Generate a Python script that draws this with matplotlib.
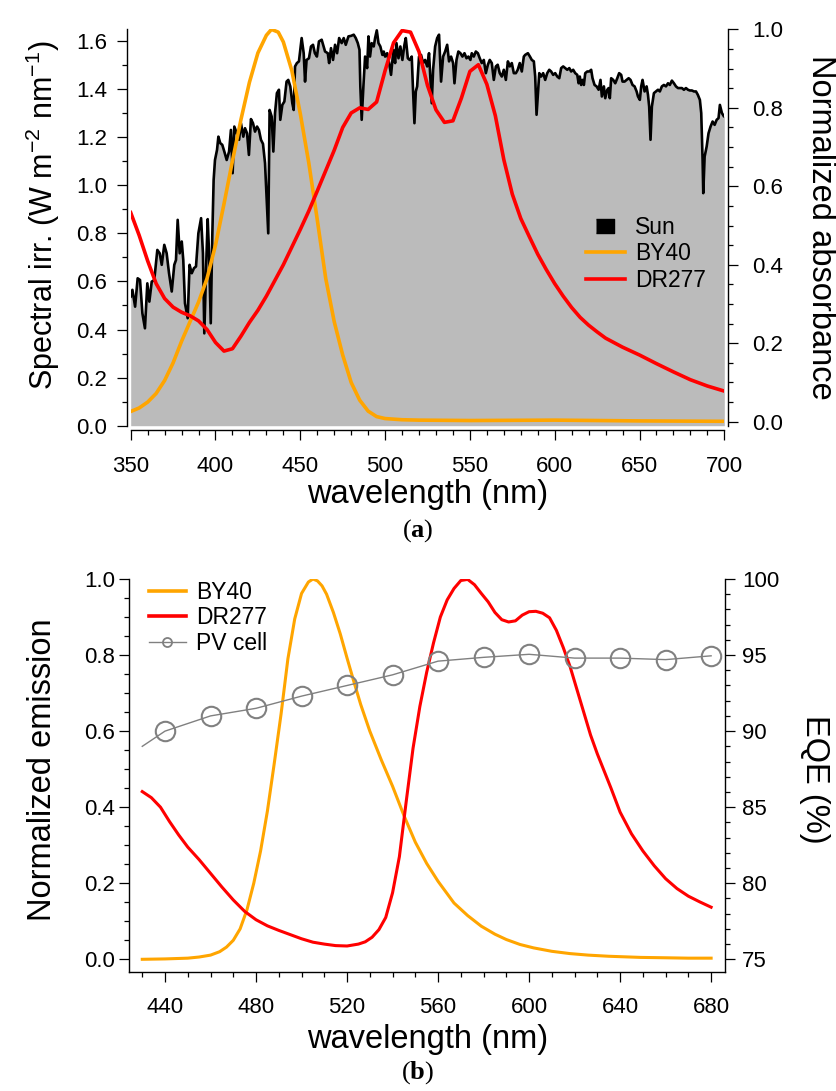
import matplotlib
matplotlib.use("Agg")
from matplotlib import pyplot
from matplotlib.lines import Line2D
from matplotlib.ticker import MultipleLocator, FixedLocator, FormatStrFormatter

# ---- panel (a): solar spectrum and absorbance ----
sun_wl = [350.0, 351.0, 352.6, 354.1, 355.5, 356.9, 358.4, 359.8, 361.0, 362.4, 363.9, 365.7, 367.1, 368.3,
          369.8, 371.2, 372.6, 374.2, 375.7, 376.7, 377.7, 378.9, 380.1, 381.0, 382.0, 383.6, 384.7, 386.0,
          387.3, 388.5, 389.9, 391.5, 392.6, 393.4, 394.6, 395.4, 396.2, 397.2, 398.1, 398.9, 399.7, 400.9,
          401.7, 402.8, 404.0, 405.2, 406.6, 408.0, 409.1, 410.1, 411.1, 412.5, 413.9, 415.0, 416.4, 417.4,
          418.6, 419.7, 420.9, 422.1, 423.3, 424.5, 425.6, 426.8, 428.0, 429.2, 430.2, 431.1, 431.9, 433.1,
          434.1, 435.1, 436.2, 437.4, 438.2, 439.4, 440.6, 441.9, 442.9, 444.1, 445.3, 446.1, 446.9, 448.0,
          449.2, 450.8, 452.0, 452.8, 453.7, 455.1, 456.3, 457.5, 458.6, 459.8, 461.0, 462.6,
          464.6, 466.2, 467.0, 468.1, 469.3, 470.5, 471.7, 472.9, 474.4, 475.6, 476.8, 478.4, 479.9, 481.5,
          482.7, 483.9, 484.9, 485.4, 486.2, 487.2, 488.2, 489.4, 490.2, 491.1, 492.1, 493.3, 494.1, 495.1,
          496.1, 497.2, 498.4, 499.2, 500.0, 501.2, 502.4, 503.5, 504.9, 505.9, 506.7, 507.9, 509.0, 510.2,
          511.4, 512.2, 513.4, 514.5, 515.7, 516.5, 517.3, 518.1, 518.9, 520.0, 521.2, 522.4, 523.6, 524.8,
          525.9, 526.7, 527.5, 528.3, 529.5, 530.7, 531.8, 533.0, 534.2, 535.4, 536.6, 537.7, 538.9, 540.1,
          540.9, 542.1, 543.2, 544.4, 545.6, 546.8, 548.0, 549.1, 550.3, 551.1, 552.3, 553.5, 554.7, 555.8,
          557.0, 558.2, 559.4, 560.6, 561.7, 562.9, 564.1, 565.3, 566.4, 567.6, 568.8, 570.0, 571.2, 572.4,
          573.5, 574.7, 575.9, 577.1, 578.2, 579.4, 580.6, 581.8,
          582.6, 584.2, 585.4, 586.5, 587.7, 588.5, 589.3, 590.1, 590.9, 592.0, 593.2, 594.4, 595.6, 596.8,
          597.9, 599.1, 600.3, 601.5, 602.7, 603.8, 605.0, 606.2, 607.4, 608.6, 609.7, 610.9, 612.1, 613.3,
          614.1, 614.8, 615.6, 616.4, 617.2, 618.0, 619.2, 620.4, 621.5, 622.3, 623.5, 624.7, 625.9, 627.0,
          627.8, 629.0, 629.8, 631.0, 631.8, 632.5, 633.3, 634.5, 635.7, 636.9, 638.0, 639.2, 640.0, 641.2,
          642.4, 643.6, 644.7, 645.9, 647.1, 648.3, 649.1, 650.2, 651.0, 651.8, 653.0, 654.2, 655.0, 655.7,
          656.5, 657.3, 658.5, 659.7, 660.9, 662.0, 663.2, 664.4, 665.6, 666.8, 667.9, 669.1, 670.3, 671.5,
          672.7, 673.8, 675.0, 676.2, 677.4, 678.6, 679.7, 680.9, 682.1, 683.3, 684.4, 685.6, 686.4, 687.2,
          687.6, 688.4, 689.6, 690.7, 691.9, 693.1, 694.3, 695.5, 696.6, 697.4, 698.6, 699.8, 700.0]
sun_irr = [0.537, 0.565, 0.495, 0.613, 0.606, 0.467, 0.405, 0.592, 0.516, 0.599, 0.606, 0.731, 0.717, 0.669,
           0.752, 0.717, 0.634, 0.558, 0.669, 0.689, 0.856, 0.717, 0.766, 0.689, 0.509, 0.447, 0.669, 0.634,
           0.655, 0.662, 0.800, 0.863, 0.717, 0.384, 0.689, 0.859, 0.717, 0.426, 0.786, 1.022, 1.105, 1.147,
           1.202, 1.175, 1.168, 1.140, 1.105, 1.140, 1.230, 1.050, 1.244, 1.216, 1.189, 1.258, 1.202, 1.237,
           1.216, 1.126, 1.275, 1.258, 1.223, 1.244, 1.230, 1.189, 1.172, 1.092, 0.939, 0.800, 1.313, 1.286,
           1.140, 1.300, 1.383, 1.397, 1.272, 1.334, 1.348, 1.431, 1.438, 1.411, 1.341, 1.313, 1.494, 1.508,
           1.515, 1.612, 1.549, 1.431, 1.521, 1.528, 1.577, 1.584, 1.549, 1.535, 1.598, 1.605,
           1.556, 1.549, 1.508, 1.570, 1.521, 1.584, 1.549, 1.612, 1.591, 1.612, 1.584, 1.619, 1.621, 1.626,
           1.612, 1.591, 1.563, 1.411, 1.272, 1.411, 1.535, 1.487, 1.619, 1.535, 1.591, 1.577, 1.612, 1.644,
           1.591, 1.577, 1.542, 1.556, 1.535, 1.549, 1.508, 1.459, 1.563, 1.508, 1.591, 1.528, 1.577, 1.521,
           1.584, 1.612, 1.528, 1.521, 1.535, 1.390, 1.258, 1.390, 1.411, 1.535, 1.542, 1.508, 1.521, 1.494,
           1.549, 1.445, 1.341, 1.480, 1.577, 1.612, 1.626, 1.431, 1.535, 1.556, 1.584, 1.515, 1.535, 1.508,
           1.424, 1.521, 1.556, 1.549, 1.535, 1.549, 1.528, 1.535, 1.521, 1.549, 1.535, 1.556, 1.549, 1.528,
           1.508, 1.521, 1.466, 1.501, 1.521, 1.508, 1.438, 1.494, 1.501, 1.466, 1.452, 1.480, 1.438, 1.515,
           1.494, 1.508, 1.466, 1.466, 1.480, 1.508, 1.473, 1.535,
           1.542, 1.549, 1.535, 1.521, 1.515, 1.452, 1.293, 1.383, 1.466, 1.452, 1.466, 1.438, 1.466, 1.480,
           1.473, 1.459, 1.466, 1.452, 1.445, 1.487, 1.494, 1.487, 1.480, 1.487, 1.473, 1.480, 1.466, 1.459,
           1.424, 1.452, 1.417, 1.438, 1.417, 1.466, 1.473, 1.473, 1.480, 1.445, 1.417, 1.411, 1.397, 1.438,
           1.369, 1.411, 1.362, 1.397, 1.404, 1.362, 1.445, 1.438, 1.424, 1.445, 1.466, 1.459, 1.431, 1.431,
           1.438, 1.445, 1.438, 1.417, 1.411, 1.390, 1.369, 1.355, 1.411, 1.438, 1.390, 1.411, 1.376, 1.327,
           1.189, 1.327, 1.383, 1.390, 1.397, 1.390, 1.411, 1.417, 1.411, 1.424, 1.417, 1.435, 1.424, 1.411,
           1.404, 1.404, 1.404, 1.397, 1.404, 1.397, 1.394, 1.394, 1.390, 1.390, 1.376, 1.355, 1.300, 1.105,
           0.967, 1.119, 1.161, 1.216, 1.244, 1.265, 1.251, 1.272, 1.279, 1.334, 1.300, 1.286, 1.286]

by40_abs_wl = [350, 355, 360, 365, 370, 375, 380, 385, 390, 395, 400, 405, 410, 415, 420, 425, 430, 433,
               437, 440, 445, 450, 455, 460, 465, 470, 475, 480, 485, 490, 495, 500, 510, 520, 550, 600,
               650, 700]
by40_abs = [0.026, 0.035, 0.050, 0.072, 0.105, 0.150, 0.205, 0.255, 0.305, 0.365, 0.450, 0.555, 0.665,
            0.770, 0.865, 0.940, 0.985, 1.000, 0.993, 0.968, 0.895, 0.785, 0.660, 0.515, 0.365, 0.255,
            0.170, 0.100, 0.055, 0.027, 0.013, 0.008, 0.005, 0.004, 0.003, 0.004, 0.002, 0.001]

dr277_abs_wl = [350, 355, 360, 365, 370, 375, 380, 385, 390, 395, 400, 405, 410, 415, 420, 425, 430, 435,
                440, 445, 450, 455, 460, 465, 470, 475, 480, 485, 490, 495, 500, 505, 510, 515, 520, 525,
                530, 535, 540, 545, 550, 555, 560, 565, 570, 575, 580, 585, 590, 595, 600, 605, 610, 615,
                620, 625, 630, 640, 650, 660, 670, 680, 690, 700]
dr277_abs = [0.533, 0.475, 0.410, 0.352, 0.314, 0.292, 0.279, 0.270, 0.257, 0.235, 0.202, 0.180, 0.186,
             0.218, 0.253, 0.284, 0.320, 0.360, 0.400, 0.445, 0.490, 0.537, 0.588, 0.640, 0.692, 0.750,
             0.787, 0.800, 0.796, 0.815, 0.895, 0.966, 0.997, 0.993, 0.943, 0.857, 0.795, 0.763, 0.767,
             0.825, 0.893, 0.910, 0.860, 0.780, 0.668, 0.580, 0.518, 0.472, 0.427, 0.388, 0.352, 0.320,
             0.291, 0.266, 0.246, 0.229, 0.213, 0.190, 0.170, 0.148, 0.127, 0.107, 0.091, 0.078]

# ---- panel (b): emission and PV cell EQE ----
by40_em_wl = [430, 440, 450, 455, 460, 464, 467, 470, 473, 476, 479, 482, 485, 488, 491, 494, 497, 500,
              503, 505, 507, 509, 511, 514, 517, 520, 523, 526, 530, 535, 540, 545, 550, 555, 560, 567,
              573, 579, 585, 590, 596, 602, 610, 618, 626, 635, 649, 660, 670, 680]
by40_em = [0.0, 0.001, 0.003, 0.006, 0.011, 0.020, 0.032, 0.050, 0.080, 0.130, 0.200, 0.285, 0.390,
           0.515, 0.645, 0.790, 0.895, 0.962, 0.992, 1.000, 0.995, 0.982, 0.960, 0.912, 0.856, 0.792,
           0.730, 0.670, 0.600, 0.525, 0.455, 0.378, 0.308, 0.252, 0.205, 0.148, 0.115, 0.087, 0.066,
           0.052, 0.039, 0.030, 0.021, 0.015, 0.011, 0.008, 0.005, 0.004, 0.003, 0.003]

dr277_em_wl = [430, 434, 438, 442, 446, 450, 455, 460, 465, 470, 475, 480, 485, 490, 495, 500, 505, 510,
               515, 520, 525, 528, 531, 534, 537, 540, 543, 546, 549, 552, 555, 558, 561, 564, 567, 570,
               573, 576, 579, 582, 585, 588, 591, 594, 597, 600, 603, 606, 609, 612, 615, 618, 621, 624,
               627, 630, 633, 636, 640, 645, 650, 655, 660, 665, 670, 675, 680]
dr277_em = [0.441, 0.425, 0.400, 0.362, 0.327, 0.295, 0.262, 0.226, 0.190, 0.156, 0.126, 0.104, 0.088,
            0.076, 0.065, 0.054, 0.045, 0.040, 0.036, 0.035, 0.040, 0.046, 0.058, 0.078, 0.110, 0.175,
            0.270, 0.415, 0.555, 0.665, 0.755, 0.832, 0.900, 0.945, 0.975, 0.996, 0.999, 0.985, 0.962,
            0.940, 0.912, 0.893, 0.887, 0.890, 0.905, 0.914, 0.915, 0.910, 0.898, 0.865, 0.820, 0.770,
            0.710, 0.650, 0.590, 0.540, 0.495, 0.450, 0.387, 0.330, 0.285, 0.246, 0.212, 0.186, 0.166,
            0.151, 0.137]

pv_wl = [440, 460, 480, 500, 520, 540, 560, 580, 600, 620, 640, 660, 680]
pv_eqe = [90.0, 91.0, 91.5, 92.3, 93.0, 93.7, 94.6, 94.85, 95.05, 94.8, 94.8, 94.7, 94.95]
pv_fit_wl = [430] + pv_wl
pv_fit_eqe = [89.0] + pv_eqe

ORANGE = "#ffa500"
RED = "#ff0000"
GREY = "#808080"
FILL = "#bbbbbb"

pyplot.rcParams["font.family"] = ["Liberation Sans", "DejaVu Sans"]
pyplot.rcParams["mathtext.fontset"] = "custom"
pyplot.rcParams["mathtext.default"] = "regular"
pyplot.rcParams["mathtext.bf"] = "Liberation Serif:bold"
pyplot.rcParams["axes.linewidth"] = 1.0

TICK = 16
LABEL = 23.5
W, H = 837.0, 1091.0


def px_axes(left, top, right, bottom):
    return [left / W, 1 - bottom / H, (right - left) / W, (bottom - top) / H]


def style_ticks(ax, which_side, pad):
    ax.tick_params(axis=which_side, which="major", direction="out", length=7.5, width=0.9,
                   labelsize=TICK, pad=pad)
    ax.tick_params(axis=which_side, which="minor", direction="out", length=3.6, width=0.9)


fig = pyplot.figure(figsize=(8.37, 10.91), dpi=100)

# ---------------- (a) ----------------
ax = fig.add_axes(px_axes(130.7, 29.4, 724.3, 425.7))
ax.fill_between(sun_wl, 0, sun_irr, color=FILL, lw=0, zorder=1)
ax.plot(sun_wl, sun_irr, color="black", lw=1.9, zorder=2)
ax.set_xlim(350, 700)
ax.set_ylim(0, 1.648)
ax.spines["top"].set_visible(False)
ax.spines["right"].set_visible(False)
ax.spines["bottom"].set_position(("outward", 3))
ax.spines["left"].set_position(("outward", 2.5))
ax.xaxis.set_major_locator(MultipleLocator(50))
ax.xaxis.set_minor_locator(MultipleLocator(10))
ax.yaxis.set_major_locator(MultipleLocator(0.2))
ax.yaxis.set_minor_locator(MultipleLocator(0.1))
ax.yaxis.set_major_formatter(FormatStrFormatter("%.1f"))
style_ticks(ax, "x", 11)
style_ticks(ax, "y", 7)
ax.set_xlabel("wavelength (nm)", fontsize=LABEL, labelpad=2)
ax.set_ylabel("Spectral irr. (W m$^{-2}$ nm$^{-1}$)", fontsize=22, va="center")
ax.yaxis.set_label_coords(-0.148, 0.53)

ax2 = ax.twinx()
ax2.plot(by40_abs_wl, by40_abs, color=ORANGE, lw=2.6, zorder=3)
ax2.plot(dr277_abs_wl, dr277_abs, color=RED, lw=2.6, zorder=3)
ax2.set_ylim(-0.0102, 1.0)
ax2.spines["top"].set_visible(False)
ax2.spines["left"].set_visible(False)
ax2.spines["bottom"].set_visible(False)
ax2.spines["right"].set_position(("outward", 2.5))
ax2.yaxis.set_major_locator(MultipleLocator(0.2))
ax2.yaxis.set_minor_locator(MultipleLocator(0.05))
ax2.yaxis.set_major_formatter(FormatStrFormatter("%.1f"))
style_ticks(ax2, "y", 10)
ax2.set_ylabel("Normalized absorbance", fontsize=LABEL, rotation=-90, va="center")
ax2.yaxis.set_label_coords(1.162, 0.5)

sun_handle = Line2D([], [], ls="none", marker=[(-9, -6.5), (9, -6.5), (9, 6.5), (-9, 6.5)],
                    markersize=13, color="black")
handles = [sun_handle,
           Line2D([], [], color=ORANGE, lw=2.6),
           Line2D([], [], color=RED, lw=2.6)]
ax2.legend(handles, ["Sun", "BY40", "DR277"], loc="upper left",
           bbox_to_anchor=(586 / W, 1 - 216 / H), bbox_transform=fig.transFigure,
           frameon=False, fontsize=16.5, handlelength=1.7, handletextpad=0.45,
           labelspacing=0.15, borderpad=0, borderaxespad=0)

# ---------------- (b) ----------------
bx = fig.add_axes(px_axes(129.3, 579.0, 725.0, 971.7))
bx.plot(by40_em_wl, by40_em, color=ORANGE, lw=2.2, zorder=3)
bx.plot(dr277_em_wl, dr277_em, color=RED, lw=2.2, zorder=3)
bx.set_xlim(424.3, 686.1)
bx.set_ylim(-0.0326, 1.0)
bx.spines["top"].set_visible(False)
bx.spines["right"].set_visible(False)
bx.set_xticks(range(440, 681, 40))
bx.xaxis.set_minor_locator(FixedLocator(range(430, 681, 10)))
bx.yaxis.set_major_locator(MultipleLocator(0.2))
bx.yaxis.set_minor_locator(MultipleLocator(0.05))
bx.yaxis.set_major_formatter(FormatStrFormatter("%.1f"))
style_ticks(bx, "x", 11)
style_ticks(bx, "y", 2.5)
bx.set_xlabel("wavelength (nm)", fontsize=LABEL, labelpad=4)
bx.set_ylabel("Normalized emission", fontsize=LABEL, va="center")
bx.yaxis.set_label_coords(-0.145, 0.514)

bx2 = bx.twinx()
bx2.plot(pv_fit_wl, pv_fit_eqe, color=GREY, lw=1.0, zorder=2)
bx2.plot(pv_wl, pv_eqe, ls="none", marker="o", markersize=14, mfc="none", mec=GREY, mew=1.5, zorder=2)
bx2.set_ylim(74.185, 100)
bx2.spines["top"].set_visible(False)
bx2.spines["left"].set_visible(False)
bx2.spines["bottom"].set_visible(False)
bx2.yaxis.set_major_locator(MultipleLocator(5))
bx2.yaxis.set_minor_locator(MultipleLocator(1))
style_ticks(bx2, "y", 5)
bx2.set_ylabel("EQE (%)", fontsize=LABEL, rotation=-90, va="center")
bx2.yaxis.set_label_coords(1.15, 0.49)

handles_b = [Line2D([], [], color=ORANGE, lw=2.6),
             Line2D([], [], color=RED, lw=2.6),
             Line2D([], [], color=GREY, lw=1.0, marker="o", markersize=6.5, mfc="none", mec=GREY, mew=1.3)]
bx2.legend(handles_b, ["BY40", "DR277", "PV cell"], loc="upper left",
           bbox_to_anchor=(149 / W, 1 - 581 / H), bbox_transform=fig.transFigure,
           frameon=False, fontsize=16.5, handlelength=1.6, handletextpad=0.45,
           labelspacing=0.1, borderpad=0, borderaxespad=0)

fig.text(418 / W, 1 - 531 / H, r"($\mathbf{a}$)", family="Liberation Serif", fontsize=19,
         ha="center", va="center")
fig.text(418 / W, 1 - 1073 / H, r"($\mathbf{b}$)", family="Liberation Serif", fontsize=19,
         ha="center", va="center")

fig.savefig("out.png", dpi=100)
